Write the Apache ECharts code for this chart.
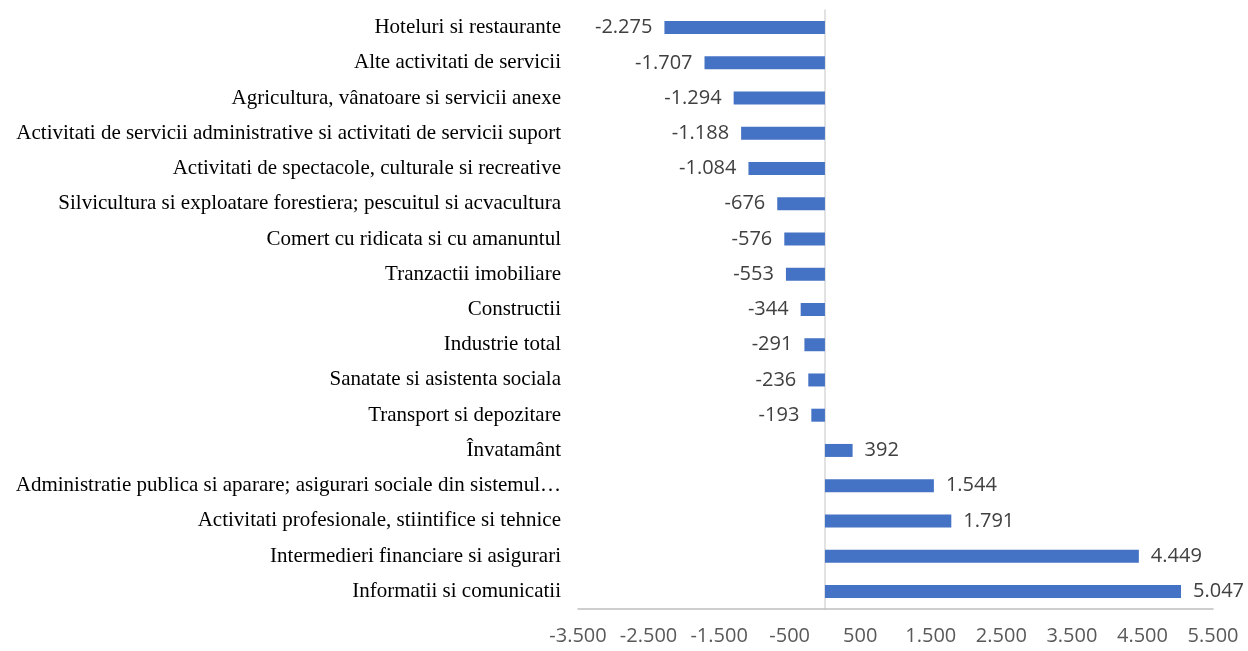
<!DOCTYPE html>
<html>
<head>
<meta charset="utf-8">
<script src="https://cdn.jsdelivr.net/npm/echarts@6/dist/echarts.min.js"></script>
<style>
  html, body { margin: 0; padding: 0; background: #fff; }
  #chart { width: 1248px; height: 651px; }
</style>
</head>
<body>
<div id="chart"></div>
<script>
// categories, top to bottom
const categories = [
  'Hoteluri si restaurante',
  'Alte activitati de servicii',
  'Agricultura, vânatoare si servicii anexe',
  'Activitati de servicii administrative si activitati de servicii suport',
  'Activitati de spectacole, culturale si recreative',
  'Silvicultura si exploatare forestiera; pescuitul si acvacultura',
  'Comert cu ridicata si cu amanuntul',
  'Tranzactii imobiliare',
  'Constructii',
  'Industrie total',
  'Sanatate si asistenta sociala',
  'Transport si depozitare',
  'Învatamânt',
  'Administratie publica si aparare; asigurari sociale din sistemul…',
  'Activitati profesionale, stiintifice si tehnice',
  'Intermedieri financiare si asigurari',
  'Informatii si comunicatii'
];
const values = [-2275, -1707, -1294, -1188, -1084, -676, -576, -553, -344, -291, -236, -193, 392, 1544, 1791, 4449, 5047];

// thousands with a dot, as in the original
function fmt(v) {
  const s = Math.abs(v).toString().replace(/\B(?=(\d{3})+(?!\d))/g, '.');
  return (v < 0 ? '-' : '') + s;
}

const chart = echarts.init(document.getElementById('chart'));
chart.setOption({
  animation: false,
  grid: { left: 578, right: 35, top: 10, bottom: 42, containLabel: false },
  xAxis: {
    type: 'value',
    min: -3500,
    max: 5500,
    interval: 1000,
    splitLine: { show: false },
    axisLine: { show: true, lineStyle: { color: '#bfbfbf', width: 1.5 } },
    axisTick: { show: false },
    axisLabel: {
      color: '#595959',
      fontFamily: 'Open Sans',
      fontSize: 20,
      margin: 17,
      formatter: v => fmt(v)
    }
  },
  yAxis: {
    type: 'category',
    inverse: true,
    data: categories,
    axisLine: { show: true, onZero: true, lineStyle: { color: '#d9d9d9', width: 1.5 } },
    axisTick: { show: false },
    axisLabel: {
      color: '#000',
      fontFamily: 'Liberation Serif',
      fontSize: 21,
      margin: 17
    }
  },
  series: [{
    type: 'bar',
    data: values.map(v => ({
      value: v,
      label: { position: v < 0 ? 'left' : 'right' }
    })),
    barWidth: 13,
    itemStyle: { color: '#4472c4' },
    label: {
      show: true,
      color: '#404040',
      fontFamily: 'Open Sans',
      fontSize: 20,
      distance: 12,
      formatter: p => fmt(p.value)
    }
  }]
});
</script>
</body>
</html>
